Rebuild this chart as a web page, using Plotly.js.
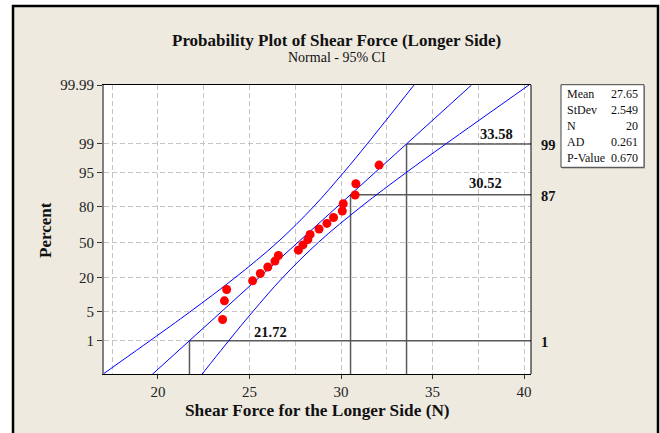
<!DOCTYPE html>
<html><head><meta charset="utf-8">
<script src="https://cdn.plot.ly/plotly-3.0.1.min.js"></script>
<style>html,body{margin:0;padding:0;background:#fff;}</style>
</head><body><div id="chart" style="width:660px;height:433px;"></div>
<script>
// ---- data ----
const pointPct = [3.4, 8.3, 13.2, 18.1, 23.0, 27.9, 32.8, 37.7, 42.6, 47.5, 52.5, 57.4, 62.3, 67.2, 72.1, 77.0, 81.9, 86.8, 91.7, 96.6];
const pointX = [23.53, 23.63, 23.75, 25.17, 25.59, 26.00, 26.39, 26.58, 27.67, 27.92, 28.19, 28.31, 28.80, 29.23, 29.59, 30.07, 30.12, 30.77, 30.81, 32.08];
const fitPct = [0.01, 99.99];
const fitX = [18.17, 37.13];
const ciPct = [0.01, 1, 5, 20, 50, 80, 95, 99, 99.99];
const ciLowerX = [15.03, 19.57, 21.75, 24.20, 26.53, 28.50, 30.13, 31.43, 33.99];
const ciUpperX = [21.31, 23.87, 25.17, 26.80, 28.77, 31.10, 33.55, 35.73, 40.27];
const refPct = [1, 87, 99];
const refX = [21.72, 30.52, 33.58];
const refLabels = ['21.72', '30.52', '33.58'];
const refPctLabels = ['1', '87', '99'];
const yTickPct = [1, 5, 20, 50, 80, 95, 99, 99.99];
const yTickText = ['1', '5', '20', '50', '80', '95', '99', '99.99'];
const xTickVals = [20, 25, 30, 35, 40];
const statNames = ['Mean', 'StDev', 'N', 'AD', 'P-Value'];
const statValues = ['27.65', '2.549', '20', '0.261', '0.670'];

// ---- probability (normal) scale transform ----
function probit(p) {
  const a = [-3.969683028665376e+01, 2.209460984245205e+02, -2.759285104469687e+02, 1.383577518672690e+02, -3.066479806614716e+01, 2.506628277459239e+00];
  const b = [-5.447609879822406e+01, 1.615858368580409e+02, -1.556989798598866e+02, 6.680131188771972e+01, -1.328068155288572e+01];
  const c = [-7.784894002430293e-03, -3.223964580411365e-01, -2.400758277161838e+00, -2.549732539343734e+00, 4.374664141464968e+00, 2.938163982698783e+00];
  const d = [7.784695709041462e-03, 3.224671290700398e-01, 2.445134137142996e+00, 3.754408661907416e+00];
  const pl = 0.02425, ph = 1 - pl;
  let q, r;
  if (p < pl) { q = Math.sqrt(-2 * Math.log(p)); return (((((c[0]*q+c[1])*q+c[2])*q+c[3])*q+c[4])*q+c[5]) / ((((d[0]*q+d[1])*q+d[2])*q+d[3])*q+1); }
  if (p <= ph) { q = p - 0.5; r = q*q; return (((((a[0]*r+a[1])*r+a[2])*r+a[3])*r+a[4])*r+a[5])*q / (((((b[0]*r+b[1])*r+b[2])*r+b[3])*r+b[4])*r+1); }
  q = Math.sqrt(-2 * Math.log(1 - p)); return -(((((c[0]*q+c[1])*q+c[2])*q+c[3])*q+c[4])*q+c[5]) / ((((d[0]*q+d[1])*q+d[2])*q+d[3])*q+1);
}
const zp = pct => probit(pct / 100);

const xRange = [17.05, 40.38];
const yRange = [zp(0.092), zp(99.99)];

// plot box in pixels
const L = 104, T = 85, R = 129, B = 59, W = 660 - L - R, H = 433 - T - B;
const px = x => (x - L) / W;
const py = y => 1 - (y - T) / H;

const serif = 'Liberation Serif, Times New Roman, serif';
const blue = '#0000FF';

const traces = [
  { x: ciLowerX, y: ciPct.map(zp), mode: 'lines', line: { color: blue, width: 1, shape: 'spline' }, hoverinfo: 'skip' },
  { x: ciUpperX, y: ciPct.map(zp), mode: 'lines', line: { color: blue, width: 1, shape: 'spline' }, hoverinfo: 'skip' },
  { x: fitX, y: fitPct.map(zp), mode: 'lines', line: { color: blue, width: 1 }, hoverinfo: 'skip' },
  { x: pointX, y: pointPct.map(zp), mode: 'markers', marker: { color: '#FF0000', size: 9 }, cliponaxis: false }
];

const refColor = '#5a5a5a';
const shapes = [
  { type: 'rect', xref: 'paper', yref: 'paper', x0: px(13), x1: px(658), y0: py(445), y1: py(6),
    fillcolor: '#EEEAE0', line: { color: '#000', width: 2.5 }, layer: 'below' },
  { type: 'rect', xref: 'paper', yref: 'paper', x0: 0, x1: 1, y0: 0, y1: 1,
    fillcolor: '#FFFFFF', line: { width: 0 }, layer: 'below' },
  { type: 'line', xref: 'paper', yref: 'paper', x0: 1, x1: 1, y0: 0, y1: 1, line: { color: '#000', width: 1 } },
  // stats box shadow + box
  { type: 'rect', xref: 'paper', yref: 'paper', x0: px(562), x1: px(645), y0: py(168.5), y1: py(86),
    fillcolor: '#9a9a9a', line: { width: 0 } },
  { type: 'rect', xref: 'paper', yref: 'paper', x0: px(561), x1: px(644), y0: py(167.3), y1: py(84.7),
    fillcolor: '#FFFFFF', line: { color: '#444', width: 1 } }
];
refX.forEach((rx, i) => {
  const yz = zp(refPct[i]);
  shapes.push({ type: 'line', xref: 'x', yref: 'y', x0: rx, x1: rx, y0: yRange[0], y1: yz, line: { color: refColor, width: 1.5 }, layer: 'between' });
  shapes.push({ type: 'line', xref: 'x', yref: 'y', x0: rx, x1: xRange[1], y0: yz, y1: yz, line: { color: refColor, width: 1.5 }, layer: 'between' });
});

const ann = [];
const addText = (text, x, y, size, bold, opts) => ann.push(Object.assign({
  text: bold ? '<b>' + text + '</b>' : text, xref: 'paper', yref: 'paper', x: px(x), y: py(y),
  showarrow: false, xanchor: 'center', yanchor: 'middle', font: { family: serif, size: size, color: '#111' }
}, opts || {}));

addText('Probability Plot of Shear Force (Longer Side)', 336, 40, 17, true);
addText('Normal - 95% CI', 337, 58, 14, false);
addText('Shear Force for the Longer Side (N)', 317, 410, 17.3, true);
addText('Percent', 45, 230, 17, true, { textangle: -90 });

const refLabelPos = [[270.7, 332.3], [485.7, 183.3], [496.7, 134]];
refLabels.forEach((t, i) => addText(t, refLabelPos[i][0], refLabelPos[i][1], 14.5, true));
refPctLabels.forEach((t, i) => {
  const yPix = T + (1 - (zp(refPct[i]) - yRange[0]) / (yRange[1] - yRange[0])) * H;
  addText(t, 539, yPix + 1, 14.5, true, { xanchor: 'left' });
});
statNames.forEach((t, i) => {
  addText(t, 565, 94 + 16 * i, 12, false, { xanchor: 'left' });
  addText(statValues[i], 640, 94 + 16 * i, 12, false, { xanchor: 'right' });
});

const layout = {
  width: 660, height: 433,
  margin: { l: L, r: R, t: T, b: B, pad: 0 },
  paper_bgcolor: '#FFFFFF', plot_bgcolor: '#FFFFFF',
  showlegend: false,
  font: { family: serif, size: 15, color: '#222' },
  xaxis: {
    range: xRange, tickvals: xTickVals, ticks: 'outside', ticklen: 4, tickcolor: '#333',
    showgrid: true, gridcolor: '#C4C4C4', griddash: '5px,3px', gridwidth: 1,
    minor: { dtick: 2.5, tick0: 0, showgrid: true, gridcolor: '#C4C4C4', griddash: '5px,3px', ticks: '' },
    showline: true, linecolor: '#000', linewidth: 1, mirror: true, zeroline: false,
    tickfont: { family: serif, size: 15, color: '#222' }
  },
  yaxis: {
    range: yRange, tickvals: yTickPct.map(zp), ticktext: yTickText, ticks: 'outside', ticklen: 5, tickcolor: '#333',
    showgrid: true, gridcolor: '#C4C4C4', griddash: '5px,3px', gridwidth: 1,
    showline: true, linecolor: '#808080', linewidth: 2, mirror: false, zeroline: false,
    tickfont: { family: serif, size: 15, color: '#222' }
  },
  shapes: shapes,
  annotations: ann
};

Plotly.newPlot('chart', traces, layout, { displayModeBar: false, staticPlot: true });
</script></body></html>
